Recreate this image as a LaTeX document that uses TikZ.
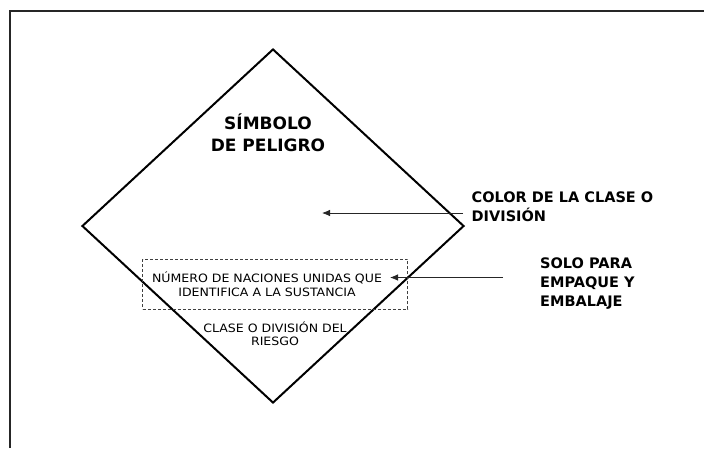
\documentclass[tikz,border=0pt]{standalone}
\usepackage{fontspec}
\setmainfont{DejaVu Sans}
\newfontfamily\widefont[FakeStretch=1.09]{DejaVu Sans}
\usetikzlibrary{
  arrows.meta,
  shapes.geometric,
  positioning
}

\begin{document}
\begin{tikzpicture}[x=1pt,y=-1pt,
      >={Latex[length=8pt,width=6.5pt]},
      placard/.style={
         diamond,
         draw=black,
         line width=2pt,
         minimum width=382pt,
         minimum height=354pt,
         inner sep=0pt
      },
      idbox/.style={
         rectangle,
         draw=black!75,
         line width=0.8pt,
         dash pattern=on 3pt off 2pt,
         minimum width=265pt,
         minimum height=50pt,
         inner sep=0pt
      },
      bigcaption/.style={
         font=\bfseries\fontsize{17}{21.5}\selectfont,
         align=center,inner sep=0pt
      },
      sidecaption/.style={
         font=\bfseries\fontsize{14.5}{19}\selectfont,
         align=left,anchor=west,inner sep=0pt
      },
      smallcaption/.style={
         font=\widefont\fontsize{11.5}{13.6}\selectfont,
         align=center,inner sep=0pt
      },
      pointer/.style={->,line width=0.8pt,draw=black!85},
      frame/.style={line width=2pt,draw=black!85}
    ]
    \useasboundingbox (0,0) rectangle (704,448);
    % marco
    \coordinate (f1) at (10,448);
    \coordinate (f2) at (10,10.5);
    \coordinate (f3) at (704,10.5);
    \draw[frame] (f1) -- (f2) -- (f3);
    % rombo
    \node (rombo) [placard] at (273,226) {};
    \node (simbolo) [bigcaption] at (268,132.5) {SÍMBOLO\\DE PELIGRO};
    \node (numbox) [idbox] at (275.25,284.3) {};
    \node (numero) [smallcaption] at (267,284) {NÚMERO DE NACIONES UNIDAS QUE\\IDENTIFICA A LA SUSTANCIA};
    \node (clase) [smallcaption] at (275,333.7) {CLASE O DIVISIÓN DEL\\RIESGO};
    % textos laterales
    \node (color) [sidecaption] at (471.5,206.3) {COLOR DE LA CLASE O\\DIVISIÓN};
    \node (solo) [sidecaption] at (540,283.3) {SOLO PARA\\EMPAQUE Y\\EMBALAJE};
    % flechas
    \coordinate (c1) at (463,213);
    \coordinate (c2) at (322,213);
    \coordinate (s1) at (503,277.5);
    \coordinate (s2) at (390,277.5);
    \draw[pointer] (c1) -- (c2);
    \draw[pointer] (s1) -- (s2);
\end{tikzpicture}
\end{document}
